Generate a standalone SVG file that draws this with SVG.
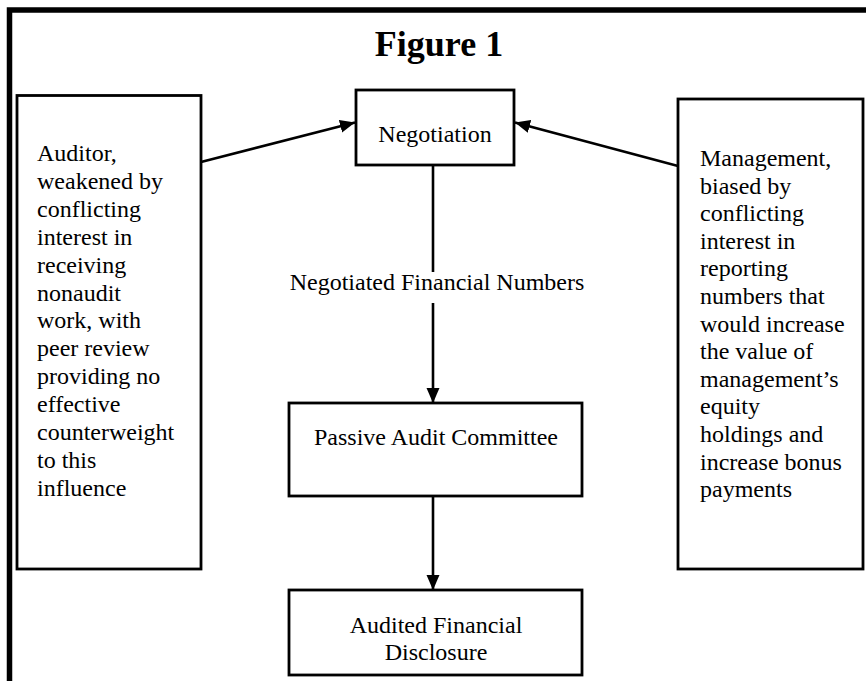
<svg xmlns="http://www.w3.org/2000/svg" width="866" height="681" viewBox="0 0 866 681">
<defs>
<style>
.box{fill:#fff;stroke:#000;stroke-width:2.8}
.t{font-family:"Liberation Serif","Times New Roman",serif;font-size:24px;fill:#000}
.c{text-anchor:middle}
.conn{stroke:#000;stroke-width:2.6;fill:none}
</style>
<marker id="ah" markerUnits="userSpaceOnUse" markerWidth="16" markerHeight="14" refX="15" refY="6.5" orient="auto">
<path d="M0,0 L15,6.5 L0,13 z" fill="#000"/>
</marker>
</defs>
<rect width="866" height="681" fill="#fff"/>
<path d="M9.5,681 V10 H866" fill="none" stroke="#000" stroke-width="5.5"/>
<text x="439" y="56" text-anchor="middle" font-family="'Liberation Serif','Times New Roman',serif" font-size="36" font-weight="bold">Figure 1</text>
<g id="connectors">
<line class="conn" x1="201" y1="162" x2="355" y2="122.5" marker-end="url(#ah)"/>
<line class="conn" x1="678" y1="166" x2="515" y2="122.5" marker-end="url(#ah)"/>
<line class="conn" x1="433" y1="165" x2="433" y2="272"/>
<line class="conn" x1="433" y1="303" x2="433" y2="403" marker-end="url(#ah)"/>
<line class="conn" x1="433" y1="496" x2="433" y2="590" marker-end="url(#ah)"/>
<text class="t c" x="437" y="290">Negotiated Financial Numbers</text>
</g>
<g id="auditor">
<rect class="box" x="17" y="95.5" width="184" height="473.5"/>
<text class="t" x="37">
<tspan x="37" y="161">Auditor,</tspan>
<tspan x="37" y="188.9">weakened by</tspan>
<tspan x="37" y="216.8">conflicting</tspan>
<tspan x="37" y="244.7">interest in</tspan>
<tspan x="37" y="272.6">receiving</tspan>
<tspan x="37" y="300.5">nonaudit</tspan>
<tspan x="37" y="328.4">work, with</tspan>
<tspan x="37" y="356.3">peer review</tspan>
<tspan x="37" y="384.2">providing no</tspan>
<tspan x="37" y="412.1">effective</tspan>
<tspan x="37" y="440">counterweight</tspan>
<tspan x="37" y="467.9">to this</tspan>
<tspan x="37" y="495.8">influence</tspan>
</text>
</g>
<g id="management">
<rect class="box" x="678" y="99" width="185" height="470"/>
<text class="t" x="700">
<tspan x="700" y="166">Management,</tspan>
<tspan x="700" y="193.6">biased by</tspan>
<tspan x="700" y="221.2">conflicting</tspan>
<tspan x="700" y="248.8">interest in</tspan>
<tspan x="700" y="276.4">reporting</tspan>
<tspan x="700" y="304">numbers that</tspan>
<tspan x="700" y="331.6">would increase</tspan>
<tspan x="700" y="359.2">the value of</tspan>
<tspan x="700" y="386.8">management’s</tspan>
<tspan x="700" y="414.4">equity</tspan>
<tspan x="700" y="442">holdings and</tspan>
<tspan x="700" y="469.6">increase bonus</tspan>
<tspan x="700" y="497.2">payments</tspan>
</text>
</g>
<g id="negotiation">
<rect class="box" x="356" y="90" width="158" height="75"/>
<text class="t c" x="435" y="142">Negotiation</text>
</g>
<g id="passive">
<rect class="box" x="289" y="403" width="293" height="93"/>
<text class="t c" x="436" y="445">Passive Audit Committee</text>
</g>
<g id="audited">
<rect class="box" x="289" y="590" width="293" height="85"/>
<text class="t c" x="436" y="633">Audited Financial</text>
<text class="t c" x="436" y="660">Disclosure</text>
</g>
</svg>
